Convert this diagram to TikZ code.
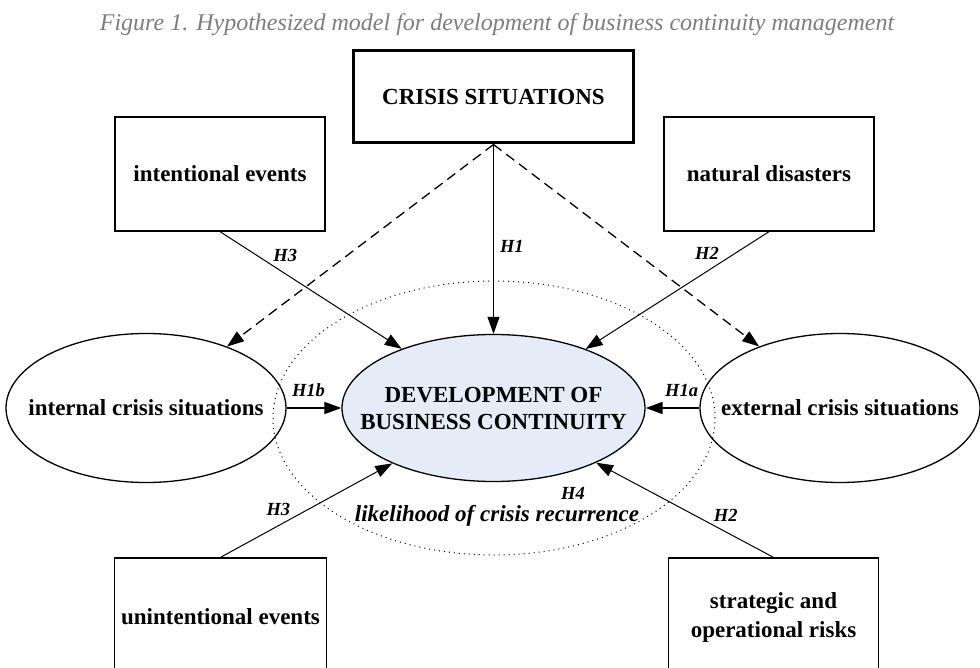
\documentclass[tikz,border=0pt]{standalone}
\usepackage{fontspec}
\setmainfont{Liberation Serif}
\usepackage{tikz}
\usetikzlibrary{shapes.geometric, arrows.meta}
\definecolor{devblue}{RGB}{230,236,247}
\definecolor{capgray}{RGB}{125,125,125}
\tikzstyle{arrow} = [line width=0.5pt,-{Triangle[length=8.5pt,width=6pt]}]
\tikzstyle{dasharrow} = [line width=0.65pt,dash pattern=on 5pt off 3pt,-{Triangle[length=8.5pt,width=6pt]}]
\tikzstyle{factor} = [draw, line width=0.65pt, minimum width=105pt, minimum height=57pt, align=center, font=\fontsize{11.5}{14.5}\selectfont\bfseries]
% negative xsep so that the ellipse keeps its minimum size
\tikzstyle{construct} = [draw, line width=0.65pt, ellipse, inner ysep=0pt, inner xsep=-20pt, minimum width=140pt, minimum height=74.5pt, align=center, font=\fontsize{11.5}{13.5}\selectfont\bfseries]
\tikzstyle{hyp} = [inner sep=1pt, font=\fontsize{9.25}{11}\selectfont\bfseries\itshape]

\begin{document}
\begin{tikzpicture}[x=0.5pt,y=-0.5pt]
        \useasboundingbox (0,0) rectangle (980,668);
        % Caption
        \node (cap) at (497,25) [text=capgray, font=\fontsize{12}{14}\selectfont\itshape] {Figure 1. Hypothesized model for development of business continuity management};
        % Zone of crisis recurrence
        \draw[dotted, line width=0.5pt] (494,418) ellipse [x radius=110.5pt, y radius=68.5pt];
        % Crisis sources
        \node (cs) [factor, line width=1.5pt, minimum width=140pt, minimum height=46pt] at (493.5,97) {CRISIS SITUATIONS};
        \node (ie) [factor] at (220,174) {intentional events};
        \node (nd) [factor] at (769,174) {natural disasters};
        \node (ue) [factor, minimum height=59pt] at (220.5,617) {unintentional events};
        \node (sr) [factor, minimum height=59pt] at (773.5,617) {strategic and\\operational risks};
        % Constructs
        \node (ics) [construct] at (146,408) {internal crisis situations};
        \node (ecs) [construct] at (840,408) {external crisis situations};
        \node (dev) [construct, fill=devblue, minimum width=151.5pt, minimum height=73.5pt] at (493.5,408) {DEVELOPMENT OF\\BUSINESS CONTINUITY};
        \node (lik) at (497,516) [font=\fontsize{11.5}{13.5}\selectfont\bfseries\itshape] {likelihood of crisis recurrence};
        \node (hfour) at (573,493) [hyp] {H4};
        % Hypotheses
        \draw[arrow] (cs.south) -- (dev) node[hyp, pos=0.54, right=2pt] {H1};
        \draw[dasharrow] (cs.south) -- (ics);
        \draw[dasharrow] (cs.south) -- (ecs);
        \draw[arrow] (ie.south) -- (dev) node[hyp, pos=0.28, anchor=south west] {H3};
        \draw[arrow] (nd.south) -- (dev) node[hyp, pos=0.26, anchor=south east] {H2};
        \draw[arrow] (ue.north) -- (dev) node[hyp, pos=0.42, anchor=south east] {H3};
        \draw[arrow] (sr.north) -- (dev) node[hyp, pos=0.35, anchor=south west] {H2};
        \draw[arrow, line width=0.9pt] (ics) -- (dev) node[hyp, pos=0.4, above=4pt] {H1b};
        \draw[arrow, line width=0.9pt] (ecs) -- (dev) node[hyp, pos=0.33, above=4pt] {H1a};
\end{tikzpicture}
\end{document}
